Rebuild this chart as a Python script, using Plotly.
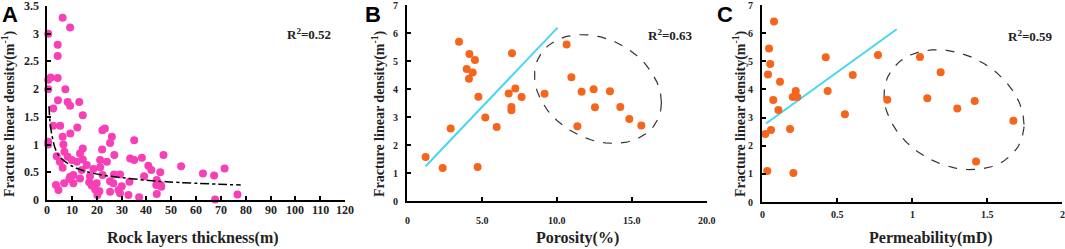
import numpy as np
import plotly.graph_objects as go

# ---------------- data ----------------
# Panel A: rock layer thickness (m) vs fracture linear density (1/m)
thickness_A = [6.3, 9.3, 0.5, 4.3, 4.3, 1.5, 0.5, 4.3, 0.5, 7.4, 4.4, 8.3, 9.3, 13.0, 2.5, 14.4,
               2.5, 5.3, 12.2, 22.3, 23.3, 9.4, 6.3, 26.1, 35.1, 0.5, 0.5, 6.6, 25.4, 14.4, 3.9,
               7.0, 22.2, 27.1, 13.3, 8.3, 5.2, 10.0, 14.4, 12.0, 16.0, 21.4, 24.1, 33.5, 35.1,
               38.2, 46.9, 6.3, 18.7, 21.4, 40.8, 42.0, 14.0, 10.6, 9.3, 17.3, 22.4, 27.0, 29.4,
               39.1, 44.2, 13.3, 17.0, 20.0, 25.4, 26.7, 30.1, 33.2, 44.0, 45.8, 3.6, 4.6, 6.9,
               10.6, 9.0, 18.0, 19.4, 21.1, 20.3, 25.4, 28.8, 29.4, 32.8, 37.1, 44.2, 54.0, 62.8,
               67.3, 71.5, 76.7, 67.7, 45.6, 46.0]
density_A = [3.29, 3.11, 3.00, 2.80, 2.60, 2.21, 2.17, 2.20, 2.00, 2.00, 1.80, 1.77, 1.70, 1.77,
             1.65, 1.53, 1.34, 1.34, 1.31, 1.26, 1.29, 1.20, 1.14, 1.14, 1.08, 1.05, 1.00, 1.00,
             1.03, 0.93, 0.79, 0.87, 0.91, 0.81, 0.84, 0.78, 0.69, 0.72, 0.73, 0.69, 0.63, 0.72,
             0.69, 0.75, 0.72, 0.76, 0.81, 0.58, 0.56, 0.59, 0.62, 0.54, 0.54, 0.45, 0.42, 0.43,
             0.45, 0.46, 0.46, 0.43, 0.36, 0.39, 0.32, 0.30, 0.34, 0.30, 0.25, 0.33, 0.27, 0.27,
             0.27, 0.18, 0.30, 0.30, 0.38, 0.26, 0.19, 0.16, 0.09, 0.15, 0.18, 0.12, 0.09, 0.05,
             0.11, 0.61, 0.48, 0.44, 0.57, 0.10, 0.01, 0.50, 0.24]
fit_x_A = [0.8, 1.9, 4.6, 10.6, 18.7, 30.8, 48.0, 78.0]
fit_y_A = [1.69, 1.19, 0.81, 0.60, 0.48, 0.40, 0.33, 0.27]

# Panel B: porosity (%) vs fracture linear density
porosity_B = [1.24, 2.38, 2.91, 3.47, 3.98, 4.13, 4.16, 4.38, 4.53, 4.71, 4.76, 5.22, 5.98, 6.78,
              6.96, 6.96, 7.00, 7.22, 7.64, 9.17, 10.64, 10.96, 11.36, 11.64, 12.44, 12.53,
              13.53, 14.22, 14.82, 15.62]
density_B = [1.57, 1.18, 2.59, 5.69, 4.71, 4.37, 5.25, 4.59, 5.04, 1.21, 3.72, 2.98, 2.64, 3.84,
             3.36, 3.24, 5.28, 4.02, 3.71, 3.83, 5.59, 4.42, 2.67, 3.90, 3.99, 3.35, 3.92, 3.36,
             2.93, 2.70]
fit_x_B = [1.24, 10.04]
fit_y_B = [1.24, 6.19]

# Panel C: permeability (mD) vs fracture linear density
perm_C = [0.022, 0.035, 0.040, 0.047, 0.055, 0.060, 0.075, 0.080, 0.109, 0.120, 0.187, 0.205,
          0.209, 0.225, 0.235, 0.425, 0.438, 0.553, 0.605, 0.773, 0.835, 1.053, 1.102, 1.191,
          1.302, 1.418, 1.427, 1.676]
density_C = [2.42, 1.10, 4.53, 5.45, 4.90, 2.56, 3.62, 6.41, 3.27, 4.27, 2.59, 3.73, 1.03, 3.94,
             3.73, 5.14, 3.94, 3.12, 4.51, 5.22, 3.63, 5.15, 3.69, 4.61, 3.32, 3.59, 1.44, 2.89]
fit_x_C = [0.027, 0.898]
fit_y_C = [2.79, 6.14]

# dashed ellipses: centre x, centre y, sd x, sd y, covariance
ellipse_B = [12.73, 4.00, 4.23, 1.943, -2.047]
ellipse_C = [1.28, 3.28, 0.4667, 2.130, -0.2458]

r2_texts = ["R<sup>2</sup>=0.52", "R<sup>2</sup>=0.63", "R<sup>2</sup>=0.59"]
xtick_A_vals = list(range(0, 121, 10))
xtick_A_text = [str(v) for v in xtick_A_vals]
ytick_A_vals = [0, 0.5, 1, 1.5, 2, 2.5, 3, 3.5]
ytick_A_text = ["0", "0.5", "1", "1.5", "2", "2.5", "3", "3.5"]
xtick_B_vals = [0, 5, 10, 15, 20]
xtick_B_text = ["0", "5.0", "10.0", "15.0", "20.0"]
ytick_BC_vals = [0, 1, 2, 3, 4, 5, 6, 7]
ytick_BC_text = ["0", "1", "2", "3", "4", "5", "6", "7"]
xtick_C_vals = [0, 0.5, 1, 1.5, 2]
xtick_C_text = ["0", "0.5", "1", "1.5", "2"]

# ---------------- figure ----------------
W, H = 1065, 249
PINK = "#f73fb6"
ORANGE = "#f7651d"
CYAN = "#45d6f2"
SERIF = "Liberation Serif"


def fx(p):
    return p / W


def fy(p):
    return 1 - p / H


def ellipse(params, n=200):
    cx, cy, sx, sy, sxy = params
    t = np.linspace(0, 2 * np.pi, n)
    l21 = sxy / sx
    l22 = np.sqrt(sy ** 2 - l21 ** 2)
    return cx + sx * np.cos(t), cy + l21 * np.cos(t) + l22 * np.sin(t)


fig = go.Figure()

# Panel A
fig.add_trace(go.Scatter(x=thickness_A, y=density_A, mode="markers", xaxis="x", yaxis="y",
                         marker=dict(color=PINK, size=8), cliponaxis=False))
fig.add_trace(go.Scatter(x=fit_x_A, y=fit_y_A, mode="lines", xaxis="x", yaxis="y",
                         line=dict(color="black", width=1.5, dash="dashdot", shape="spline")))

# Panel B
fig.add_trace(go.Scatter(x=fit_x_B, y=fit_y_B, mode="lines", xaxis="x2", yaxis="y2",
                         line=dict(color=CYAN, width=2)))
ebx, eby = ellipse(ellipse_B)
fig.add_trace(go.Scatter(x=ebx, y=eby, mode="lines", xaxis="x2", yaxis="y2",
                         line=dict(color="#333333", width=1.2, dash="dash")))
fig.add_trace(go.Scatter(x=porosity_B, y=density_B, mode="markers", xaxis="x2", yaxis="y2",
                         marker=dict(color=ORANGE, size=8), cliponaxis=False))

# Panel C
fig.add_trace(go.Scatter(x=fit_x_C, y=fit_y_C, mode="lines", xaxis="x3", yaxis="y3",
                         line=dict(color=CYAN, width=2)))
ecx, ecy = ellipse(ellipse_C)
fig.add_trace(go.Scatter(x=ecx, y=ecy, mode="lines", xaxis="x3", yaxis="y3",
                         line=dict(color="#333333", width=1.2, dash="dash")))
fig.add_trace(go.Scatter(x=perm_C, y=density_C, mode="markers", xaxis="x3", yaxis="y3",
                         marker=dict(color=ORANGE, size=8), cliponaxis=False))

axis_common = dict(showline=True, linecolor="black", linewidth=2, ticks="inside", ticklen=4,
                   tickwidth=2, tickcolor="black", showgrid=False, zeroline=False,
                   fixedrange=True, showticklabels=False)

fig.update_layout(
    width=W, height=H, margin=dict(l=0, r=0, t=0, b=0),
    paper_bgcolor="white", plot_bgcolor="white", showlegend=False,
    xaxis=dict(axis_common, domain=[fx(47), fx(345)], range=[0, 120], tickvals=xtick_A_vals,
               anchor="y"),
    yaxis=dict(axis_common, domain=[fy(200), fy(6)], range=[0, 3.5], tickvals=ytick_A_vals,
               anchor="x"),
    xaxis2=dict(axis_common, domain=[fx(407), fx(707)], range=[0, 20], tickvals=xtick_B_vals,
                anchor="y2"),
    yaxis2=dict(axis_common, domain=[fy(201), fy(5)], range=[0, 7], tickvals=ytick_BC_vals,
                anchor="x2"),
    xaxis3=dict(axis_common, domain=[fx(762), fx(1062)], range=[0, 2], tickvals=xtick_C_vals,
                anchor="y3"),
    yaxis3=dict(axis_common, domain=[fy(202), fy(5)], range=[0, 7], tickvals=ytick_BC_vals,
                anchor="x3"),
)

annots = []

# tick labels placed in data coordinates of each axis
def xticks(axis, vals, texts, ypix, size):
    for v, t in zip(vals, texts):
        annots.append(dict(xref=axis, x=v, yref="paper", y=fy(ypix), text=t, showarrow=False,
                           xanchor="center", yanchor="middle",
                           font=dict(family=SERIF, size=size, color="#222", weight="bold")))


def yticks(axis, vals, texts, xpix, size):
    for v, t in zip(vals, texts):
        annots.append(dict(xref="paper", x=fx(xpix), yref=axis, y=v, text=t, showarrow=False,
                           xanchor="right", yanchor="middle",
                           font=dict(family=SERIF, size=size, color="#222", weight="bold")))


xticks("x", xtick_A_vals, xtick_A_text, 210, 12)
yticks("y", ytick_A_vals, ytick_A_text, 41, 12)
xticks("x2", xtick_B_vals, xtick_B_text, 220, 10)
yticks("y2", ytick_BC_vals, ytick_BC_text, 400, 10)
xticks("x3", xtick_C_vals, xtick_C_text, 214, 10)
yticks("y3", ytick_BC_vals, ytick_BC_text, 755, 10)

# panel letters
for letter, xp in (("A", 10), ("B", 373), ("C", 725)):
    annots.append(dict(x=fx(xp), y=fy(14), text=letter, xref="paper", yref="paper",
                       showarrow=False, xanchor="center", yanchor="middle",
                       font=dict(family="Liberation Sans", size=22, color="black",
                                 weight="bold")))

title_font = dict(family=SERIF, size=16, color="#222", weight="bold")
ytitle = "Fracture linear density(m<sup>-1</sup>)"
others = [
    dict(x=fx(193), y=fy(238), text="Rock layers thickness(m)", font=title_font),
    dict(x=fx(577), y=fy(238), text="Porosity(%)", font=title_font),
    dict(x=fx(931), y=fy(238), text="Permeability(mD)", font=title_font),
    dict(x=fx(9), y=fy(114), text=ytitle, textangle=-90, font=dict(title_font, size=14)),
    dict(x=fx(379), y=fy(114), text=ytitle, textangle=-90, font=dict(title_font, size=14)),
    dict(x=fx(740), y=fy(114), text=ytitle, textangle=-90, font=dict(title_font, size=14)),
    dict(x=fx(309), y=fy(34), text=r2_texts[0], font=dict(title_font, size=13)),
    dict(x=fx(670), y=fy(35), text=r2_texts[1], font=dict(title_font, size=13)),
    dict(x=fx(1030), y=fy(36), text=r2_texts[2], font=dict(title_font, size=13)),
]
for a in others:
    a.update(xref="paper", yref="paper", showarrow=False, xanchor="center", yanchor="middle")
annots += others

fig.update_layout(annotations=annots)
fig.write_html("out.html", config={"displayModeBar": False},
               post_script="document.body.style.margin='0';document.body.style.overflow='hidden';")
